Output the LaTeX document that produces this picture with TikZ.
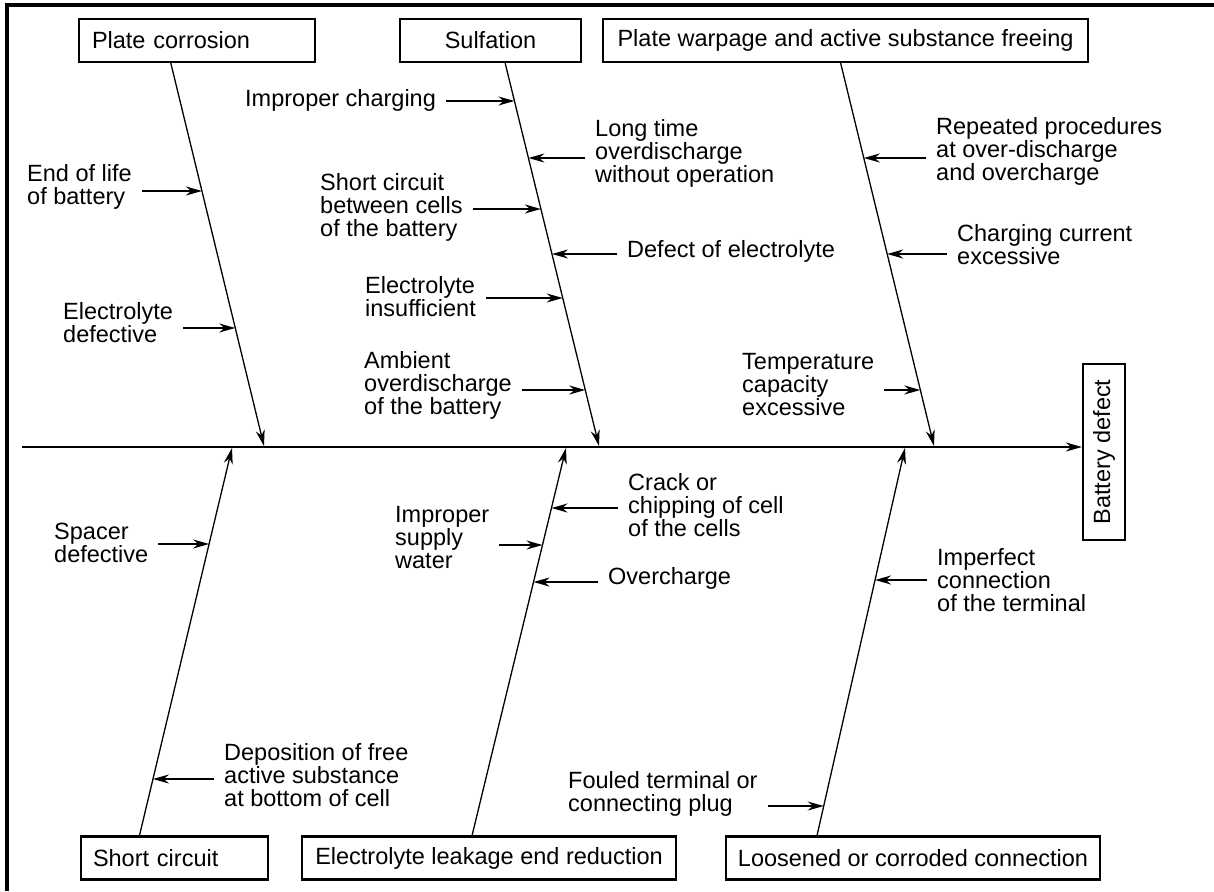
\documentclass[tikz,border=0pt]{standalone}
\usepackage{fontspec}
\setmainfont{Liberation Sans}
\usetikzlibrary{arrows.meta,calc}

\tikzset{
  catbox/.style={draw,line width=2.2pt,minimum height=43pt,inner xsep=12pt,inner ysep=0pt},
  bone/.style={-{Stealth[length=16pt,width=9pt]},line width=1.3pt},
  spine/.style={-{Stealth[length=16pt,width=9pt]},line width=2pt},
  cause/.style={-{Stealth[length=16pt,width=9pt]},line width=1.8pt,shorten <=10pt},
  lbl/.style={align=left,inner sep=0pt,anchor=west},
}

\begin{document}
\begin{tikzpicture}[x=1pt,y=-1pt,font=\fontsize{23.5}{23}\selectfont]
\useasboundingbox (0,0) rectangle (1214,891);
\draw[line width=3.5pt] (7,891) -- (7,5) -- (1214,5);

\node[catbox,minimum width=236pt,text width=210pt,align=left] (pc) at (197,40.5) {Plate corrosion};
\node[catbox,minimum width=181pt] (sulf) at (490.5,40.5) {Sulfation};
\node[catbox,minimum width=485pt] (warp) at (845.5,40.5) {Plate warpage and active substance freeing};
\node[catbox,minimum width=187pt,text width=163pt,align=left] (sc) at (174.5,858) {Short circuit};
\node[catbox,minimum width=374pt] (leak) at (489,858) {Electrolyte leakage end reduction};
\node[catbox,minimum width=372pt] (loose) at (913,858) {Loosened or corroded connection};
\node[draw,line width=2.2pt,minimum width=42pt,minimum height=176pt,inner sep=0pt] (bd) at (1104,452) {\rotatebox{90}{Battery defect}};

\coordinate (sp0) at (22,447);
\draw[spine] (sp0) -- (sp0 -| bd.west);

\coordinate (b1s) at ($(pc.south west)!0.39!(pc.south east)$);
\coordinate (b2s) at ($(sulf.south west)!0.58!(sulf.south east)$);
\coordinate (b3s) at ($(warp.south west)!0.49!(warp.south east)$);
\coordinate (b4s) at ($(sc.north west)!0.315!(sc.north east)$);
\coordinate (b5s) at ($(leak.north west)!0.455!(leak.north east)$);
\coordinate (b6s) at ($(loose.north west)!0.245!(loose.north east)$);
\coordinate (j1) at (264,446);
\coordinate (j2) at (599,446);
\coordinate (j3) at (934,446);
\coordinate (j4) at (232,448);
\coordinate (j5) at (566,448);
\coordinate (j6) at (905,448);
\draw[bone] (b1s) -- (j1);
\draw[bone] (b2s) -- (j2);
\draw[bone] (b3s) -- (j3);
\draw[bone] (b4s) -- (j4);
\draw[bone] (b5s) -- (j5);
\draw[bone] (b6s) -- (j6);

\coordinate (c11) at (intersection of b1s--j1 and 0,191--1,191);
\coordinate (c12) at (intersection of b1s--j1 and 0,328--1,328);
\coordinate (c21) at (intersection of b2s--j2 and 0,101--1,101);
\coordinate (c22) at (intersection of b2s--j2 and 0,158--1,158);
\coordinate (c23) at (intersection of b2s--j2 and 0,209--1,209);
\coordinate (c24) at (intersection of b2s--j2 and 0,254--1,254);
\coordinate (c25) at (intersection of b2s--j2 and 0,298--1,298);
\coordinate (c26) at (intersection of b2s--j2 and 0,390--1,390);
\coordinate (c31) at (intersection of b3s--j3 and 0,158--1,158);
\coordinate (c32) at (intersection of b3s--j3 and 0,254--1,254);
\coordinate (c33) at (intersection of b3s--j3 and 0,390--1,390);
\coordinate (c41) at (intersection of b4s--j4 and 0,544--1,544);
\coordinate (c42) at (intersection of b4s--j4 and 0,779--1,779);
\coordinate (c51) at (intersection of b5s--j5 and 0,508--1,508);
\coordinate (c52) at (intersection of b5s--j5 and 0,545--1,545);
\coordinate (c53) at (intersection of b5s--j5 and 0,582--1,582);
\coordinate (c61) at (intersection of b6s--j6 and 0,580--1,580);
\coordinate (c62) at (intersection of b6s--j6 and 0,806--1,806);

\node[lbl] (l11) at (27,187) {End of life\\of battery};
\node[lbl] (l12) at (63,323) {Electrolyte\\defective};
\node[lbl] (l21) at (245,100) {Improper charging};
\node[lbl] (l22) at (595,153) {Long time\\overdischarge\\without operation};
\node[lbl] (l23) at (320,207) {Short circuit\\between cells\\of the battery};
\node[lbl] (l24) at (627,251) {Defect of electrolyte};
\node[lbl] (l25) at (365,297) {Electrolyte\\insufficient};
\node[lbl] (l26) at (364,385) {Ambient\\overdischarge\\of the battery};
\node[lbl] (l31) at (936,151) {Repeated procedures\\at over-discharge\\and overcharge};
\node[lbl] (l32) at (957,245) {Charging current\\excessive};
\node[lbl] (l33) at (742,385) {Temperature\\capacity\\excessive};
\node[lbl] (l41) at (54,543) {Spacer\\defective};
\node[lbl] (l42) at (224,775) {Deposition of free\\active substance\\at bottom of cell};
\node[lbl] (l51) at (628,505) {Crack or\\chipping of cell\\of the cells};
\node[lbl] (l52) at (395,538) {Improper\\supply\\water};
\node[lbl] (l53) at (608,578) {Overcharge};
\node[lbl] (l61) at (937,580) {Imperfect\\connection\\of the terminal};
\node[lbl] (l62) at (568,794) {Fouled terminal or\\connecting plug};

\draw[cause] (l11.east |- c11) -- (c11);
\draw[cause] (l12.east |- c12) -- (c12);
\draw[cause] (l21.east |- c21) -- (c21);
\draw[cause] (l22.west |- c22) -- (c22);
\draw[cause] (l23.east |- c23) -- (c23);
\draw[cause] (l24.west |- c24) -- (c24);
\draw[cause] (l25.east |- c25) -- (c25);
\draw[cause] (l26.east |- c26) -- (c26);
\draw[cause] (l31.west |- c31) -- (c31);
\draw[cause] (l32.west |- c32) -- (c32);
\draw[cause] (l33.east |- c33) -- (c33);
\draw[cause] (l41.east |- c41) -- (c41);
\draw[cause] (l42.west |- c42) -- (c42);
\draw[cause] (l51.west |- c51) -- (c51);
\draw[cause] (l52.east |- c52) -- (c52);
\draw[cause] (l53.west |- c53) -- (c53);
\draw[cause] (l61.west |- c61) -- (c61);
\draw[cause] (l62.east |- c62) -- (c62);
\end{tikzpicture}
\end{document}
